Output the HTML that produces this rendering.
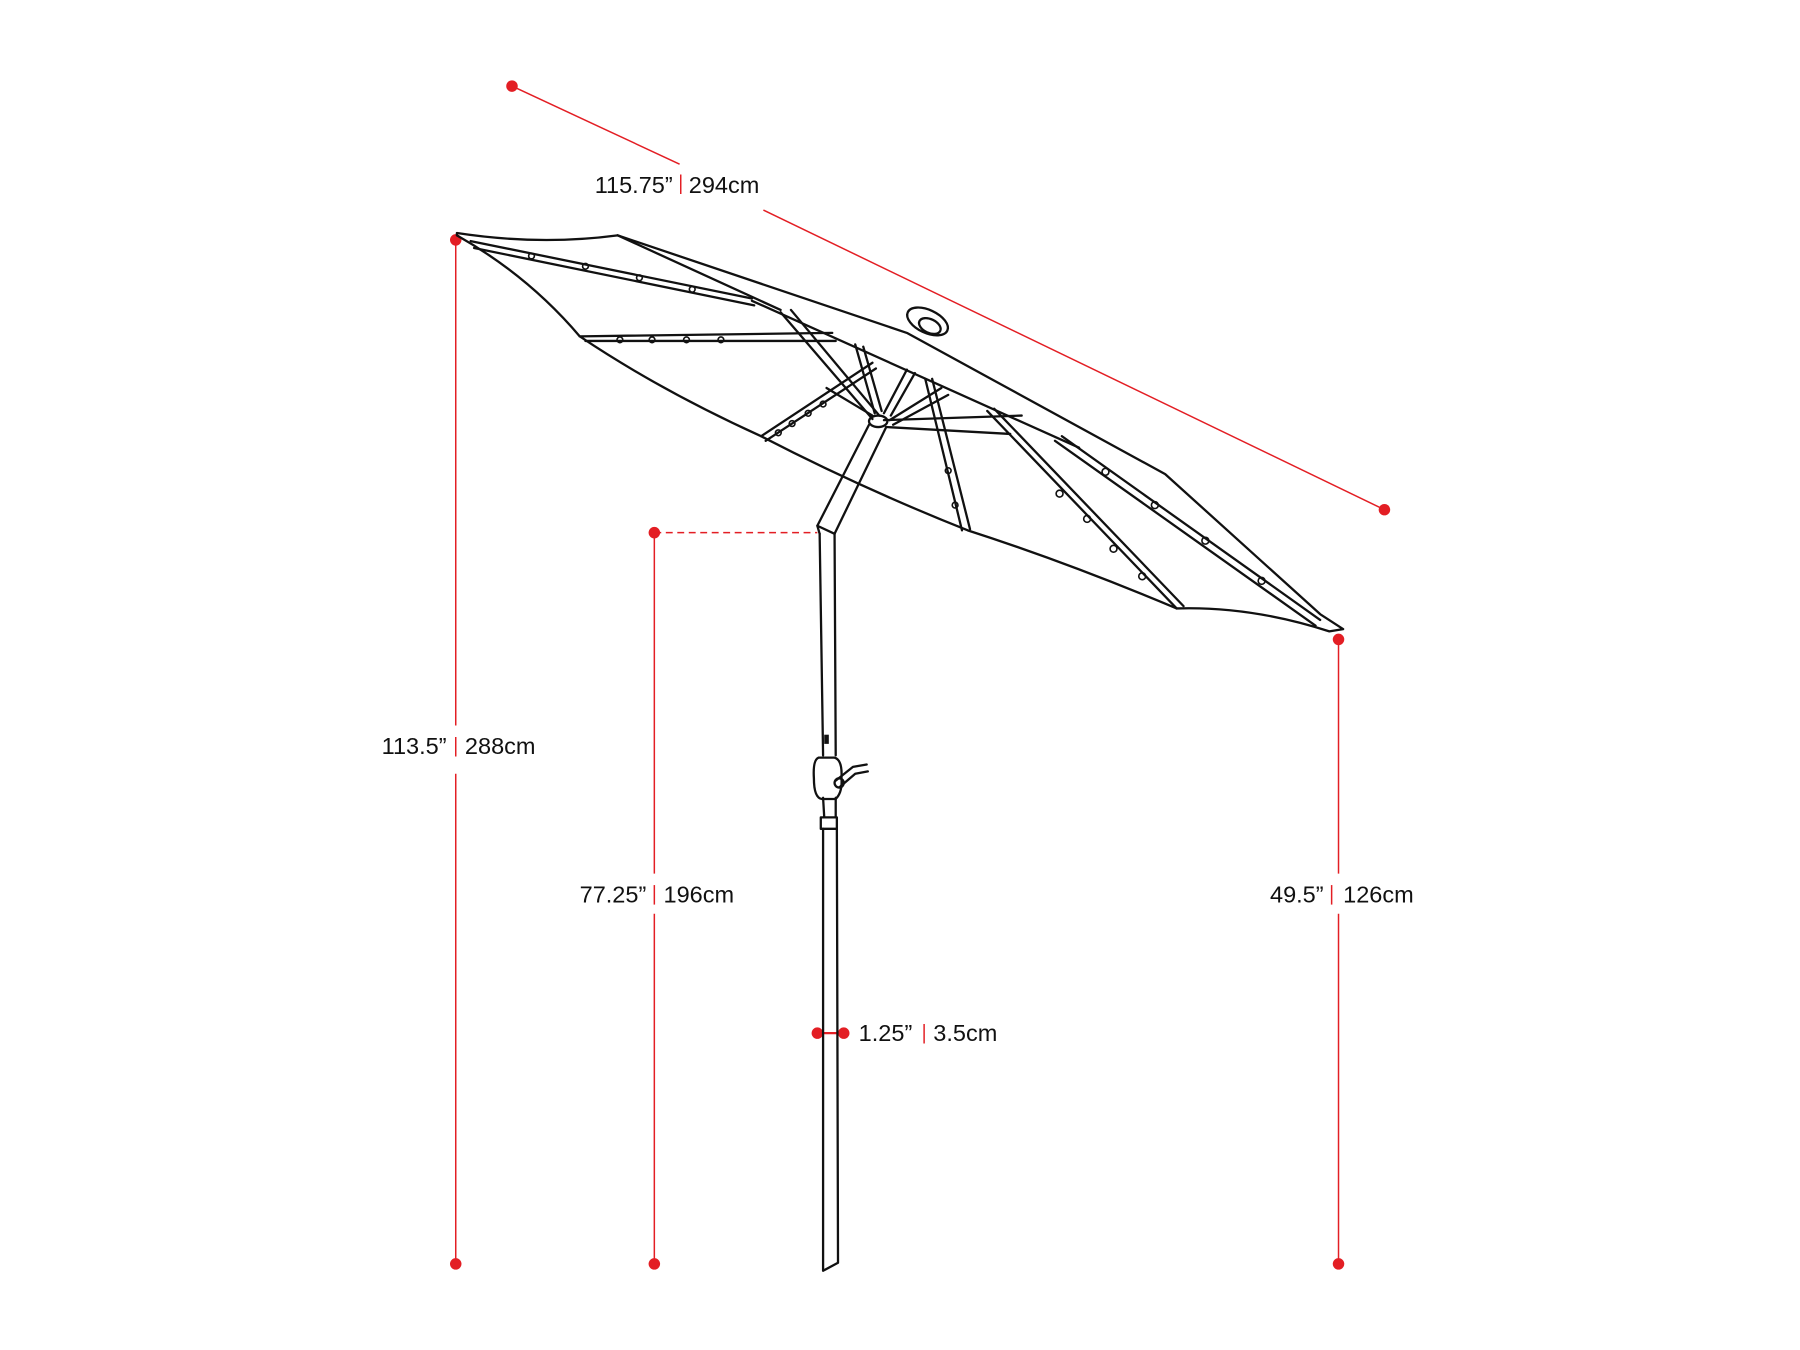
<!DOCTYPE html>
<html><head><meta charset="utf-8"><style>
html,body{margin:0;padding:0;background:#fff;}
svg{display:block;}
text{font-family:"Liberation Sans",sans-serif;font-size:20.5px;fill:#111;}
</style></head><body>
<svg width="1800" height="1350" viewBox="0 0 1568 1176" xmlns="http://www.w3.org/2000/svg">
<g stroke="#e31e24" stroke-width="1.3" fill="none">
  <line x1="446" y1="75" x2="592" y2="143"/>
  <line x1="665" y1="183" x2="1206" y2="444"/>
  <line x1="397" y1="209" x2="397" y2="632"/>
  <line x1="397" y1="674" x2="397" y2="1101"/>
  <line x1="570" y1="464" x2="570" y2="761"/>
  <line x1="570" y1="796" x2="570" y2="1101"/>
  <line x1="570" y1="464" x2="712" y2="464" stroke-dasharray="6,4"/>
  <line x1="1166" y1="557" x2="1166" y2="761"/>
  <line x1="1166" y1="796" x2="1166" y2="1101"/>
  <line x1="712" y1="900" x2="735" y2="900" stroke-width="2"/>
  <line x1="593" y1="152" x2="593" y2="169"/>
  <line x1="397" y1="642" x2="397" y2="659"/>
  <line x1="570" y1="771" x2="570" y2="788"/>
  <line x1="1160" y1="771" x2="1160" y2="788"/>
  <line x1="805" y1="892" x2="805" y2="909"/>
</g>
<g fill="#e31e24">
  <circle cx="446" cy="75" r="5"/><circle cx="1206" cy="444" r="5"/>
  <circle cx="397" cy="209" r="5"/><circle cx="397" cy="1101" r="5"/>
  <circle cx="570" cy="464" r="5"/><circle cx="570" cy="1101" r="5"/>
  <circle cx="1166" cy="557" r="5"/><circle cx="1166" cy="1101" r="5"/>
  <circle cx="712" cy="900" r="5"/><circle cx="735" cy="900" r="5"/>
</g>
<text x="586" y="168" text-anchor="end">115.75”</text><text x="600" y="168">294cm</text>
<text x="389" y="657" text-anchor="end">113.5”</text><text x="405" y="657">288cm</text>
<text x="563" y="786" text-anchor="end">77.25”</text><text x="578" y="786">196cm</text>
<text x="1153" y="786" text-anchor="end">49.5”</text><text x="1170" y="786">126cm</text>
<text x="748" y="907">1.25”</text><text x="813" y="907">3.5cm</text>

<g stroke="#111" stroke-width="2" fill="none" stroke-linejoin="round" stroke-linecap="round">
  <path d="M398,203 Q470,214 538,205 L790,290 L1015,413 L1150,535 L1170,548 L1158,550 Q1090,528 1025,530 Q930,490 843,462 Q750,425 663,380 Q575,340 505,293 Q460,240 398,205 Z"/>
  <path d="M655,262 L940,390"/>
  <path d="M538,205 L680,270"/>
  <path d="M410,210 L655,260 M413,216 L657,266"/>
  <path d="M505,293 L725,290 M510,297 L728,297"/>
  <path d="M663,380 L760,316 M667,384 L763,321"/>
  <path d="M838,462 L806,330 M845,461 L812,330"/>
  <path d="M1025,530 L860,358 M1031,528 L866,356"/>
  <path d="M1150,540 L925,380 M1146,545 L919,384"/>
  <path d="M770,366 L890,362 M772,372 L880,378"/>
  <path d="M760,365 L680,272 M766,362 L689,270"/>
  <path d="M762,360 L745,300 M768,358 L752,302"/>
  <path d="M770,360 L790,322 M776,362 L797,325"/>
  <path d="M775,366 L820,338 M778,370 L826,344"/>
  <path d="M760,362 L720,338"/>
  <ellipse cx="765" cy="367" rx="8" ry="5"/>
  <ellipse cx="808" cy="280" rx="19" ry="10" transform="rotate(25 808 280)"/>
  <ellipse cx="810" cy="284" rx="10" ry="6" transform="rotate(25 810 284)"/>
  <path d="M757,370 L712,458 L714,465 M772,372 L727,465"/>
  <path d="M714,465 L717,658 M727,465 L728,658"/>
  <path d="M712,458 L727,465"/>
  <path d="M717,695 L718,712 M728,695 L728,712"/>
  <rect x="715" y="712" width="14" height="10"/>
  <path d="M717,722 L717,1107 L730,1100 L729,722"/>
  <path d="M713,660 Q708,662 709,678 Q709,695 716,696 L728,696 Q734,690 733,678 Q734,662 727,660 Z"/>
  <path d="M728,680 L743,668 L755,666 M731,686 L745,674 L756,672"/>
  <circle cx="731" cy="682" r="4"/>
</g>
<rect x="718" y="640" width="4" height="8" fill="#111"/>
<g stroke="#111" stroke-width="1.4" fill="none">
  <circle cx="463" cy="223" r="2.5"/><circle cx="510" cy="232" r="2.5"/><circle cx="557" cy="242" r="2.5"/><circle cx="603" cy="252" r="2.5"/>
  <circle cx="540" cy="296" r="2.5"/><circle cx="568" cy="296" r="2.5"/><circle cx="598" cy="296" r="2.5"/><circle cx="628" cy="296" r="2.5"/>
  <circle cx="678" cy="377" r="2.5"/><circle cx="690" cy="369" r="2.5"/><circle cx="704" cy="360" r="2.5"/><circle cx="717" cy="352" r="2.5"/>
  <circle cx="826" cy="410" r="2.5"/><circle cx="832" cy="440" r="2.5"/>
  <circle cx="923" cy="430" r="3"/><circle cx="947" cy="452" r="3"/><circle cx="970" cy="478" r="3"/><circle cx="995" cy="502" r="3"/>
  <circle cx="963" cy="411" r="3"/><circle cx="1006" cy="440" r="3"/><circle cx="1050" cy="471" r="3"/><circle cx="1099" cy="506" r="3"/>
</g>
</svg>
</body></html>
